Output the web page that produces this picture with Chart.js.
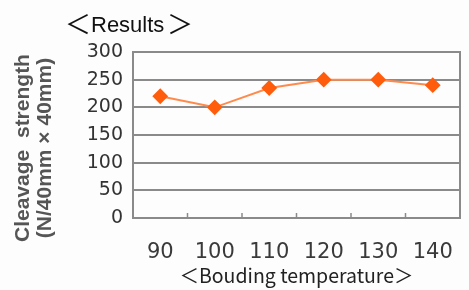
<!DOCTYPE html>
<html>
<head>
    <title>Results</title>
    <script src="https://cdn.jsdelivr.net/npm/chart.js"></script>
    <style>
        body { margin: 0; background: #fdfdfd; }
        #wrap { width: 469px; height: 290px; }
    </style>
</head>
<body>
    <div id="wrap"><canvas id="resultsChart" width="469" height="290"></canvas></div>

    <script>
        const temperatures = ['90', '100', '110', '120', '130', '140'];
        const strength = [220, 200, 235, 250, 250, 240];
        const yTicks = [0, 50, 100, 150, 200, 250, 300];

        const chartTitle = 'Results';
        const yTitle = ['Cleavage  strength', '(N/40mm × 40mm)'];
        const xTitle = '＜Bouding temperature＞';

        // frame round the plot, little tick marks between categories, heading and y title
        const extras = {
            id: 'extras',
            afterDatasetsDraw(chart) {
                const ctx = chart.ctx;
                const a = chart.chartArea;
                const x = chart.scales.x;
                ctx.save();
                ctx.strokeStyle = '#8a8a8a';
                ctx.lineWidth = 2;
                ctx.strokeRect(a.left, a.top, a.right - a.left, a.bottom - a.top);
                ctx.lineWidth = 1.5;
                for (let i = 0; i < temperatures.length - 1; i++) {
                    const px = (x.getPixelForValue(i) + x.getPixelForValue(i + 1)) / 2;
                    ctx.beginPath();
                    ctx.moveTo(px, a.bottom);
                    ctx.lineTo(px, a.bottom - 5);
                    ctx.stroke();
                }
                ctx.restore();
            },
            afterDraw(chart) {
                const ctx = chart.ctx;
                ctx.save();
                // heading with wide brackets
                ctx.fillStyle = '#111';
                ctx.textBaseline = 'alphabetic';
                ctx.textAlign = 'center';
                ctx.font = '26px "Noto Sans CJK JP"';
                ctx.fillText('＜', 78, 34);
                ctx.fillText('＞', 180, 34);
                ctx.textAlign = 'left';
                ctx.font = '22px "Liberation Sans", Arial, sans-serif';
                ctx.fillText(chartTitle, 91, 32);

                // rotated y axis title, two lines
                ctx.fillStyle = '#555';
                ctx.font = 'bold 21px "Liberation Sans", Arial, sans-serif';
                ctx.textAlign = 'center';
                ctx.textBaseline = 'middle';
                ctx.translate(0, 148);
                ctx.rotate(-Math.PI / 2);
                ctx.fillText(yTitle[0], 0, 23);
                ctx.fillText(yTitle[1], 0, 45);
                ctx.restore();
            }
        };

        const ctx = document.getElementById('resultsChart').getContext('2d');
        new Chart(ctx, {
            type: 'line',
            data: {
                labels: temperatures,
                datasets: [{
                    data: strength,
                    borderColor: '#ff8a4c',
                    borderWidth: 2,
                    backgroundColor: '#ff5c0c',
                    pointBackgroundColor: '#ff5c0c',
                    pointBorderColor: '#ff5c0c',
                    pointStyle: 'rectRot',
                    pointRadius: 6.5,
                    tension: 0
                }]
            },
            plugins: [extras],
            options: {
                responsive: false,
                animation: false,
                layout: { padding: { top: 52, right: 9, left: 0, bottom: 0 } },
                plugins: {
                    legend: { display: false },
                    tooltip: { enabled: false }
                },
                scales: {
                    x: {
                        offset: true,
                        grid: { display: false },
                        border: { display: false },
                        ticks: {
                            color: '#3a3a3a',
                            padding: 14,
                            font: { family: 'DejaVu Sans', size: 21 }
                        },
                        title: {
                            display: true,
                            text: xTitle,
                            color: '#222',
                            padding: { top: 4, bottom: 3 },
                            font: { family: '"Noto Sans CJK JP"', size: 19.5 }
                        },
                        afterFit(scale) { scale.height = 72; }
                    },
                    y: {
                        min: 0,
                        max: 300,
                        afterBuildTicks(scale) {
                            scale.ticks = yTicks.map(v => ({ value: v }));
                        },
                        grid: {
                            color: '#8a8a8a',
                            lineWidth: 2,
                            drawTicks: false
                        },
                        border: { display: false },
                        ticks: {
                            color: '#333',
                            padding: 10,
                            font: { family: 'DejaVu Sans', size: 19 }
                        },
                        afterFit(scale) { scale.width = 133; }
                    }
                }
            }
        });
    </script>
</body>
</html>
